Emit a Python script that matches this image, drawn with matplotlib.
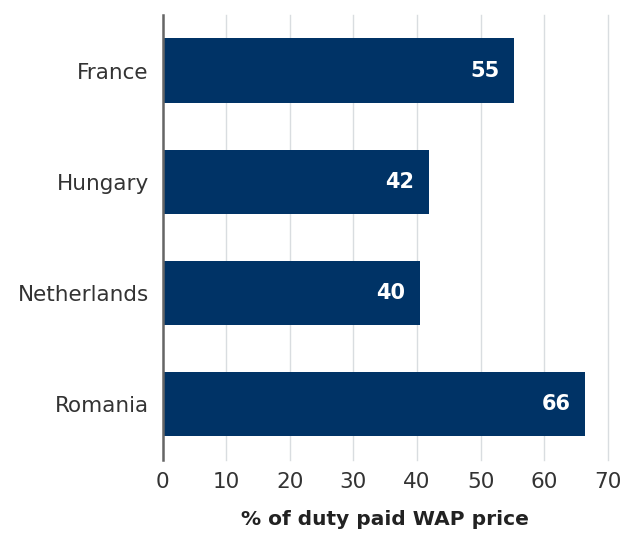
import matplotlib.pyplot as plt

countries = ['France', 'Hungary', 'Netherlands', 'Romania']
values = [55.2, 41.8, 40.4, 66.4]
value_labels = ['55', '42', '40', '66']
xticks = [0, 10, 20, 30, 40, 50, 60, 70]

plt.rcParams['font.family'] = ['DejaVu Sans']

fig = plt.figure(figsize=(6.3, 5.34), dpi=100)
ax = fig.add_axes([0.258, 0.139, 0.707, 0.833])

bar_color = '#003366'
text_color = '#333333'

ypos = list(range(len(countries)))
ax.barh(ypos, values, height=0.58, color=bar_color, zorder=3)

for y, v, lab in zip(ypos, values, value_labels):
    ax.annotate(lab, xy=(v, y), xytext=(-10.5, 0), textcoords='offset points',
                ha='right', va='center', color='white', fontsize=15,
                fontweight='bold')

ax.set_xlim(0, 70)
ax.set_ylim(3.5, -0.5)
ax.set_yticks(ypos)
ax.set_yticklabels(countries, fontsize=15.5, color=text_color)
ax.set_xticks(xticks)
ax.set_xticklabels([str(t) for t in xticks], fontsize=15.5, color=text_color)
ax.tick_params(axis='both', length=0)
ax.tick_params(axis='y', pad=10)
ax.tick_params(axis='x', pad=9)

ax.grid(axis='x', color='#d9dde0', linewidth=1, zorder=0)
for gl in ax.get_xgridlines():
    gl.set_clip_on(False)
ax.set_axisbelow(True)
for side in ['top', 'right', 'bottom']:
    ax.spines[side].set_visible(False)
ax.spines['left'].set_color('#666666')
ax.spines['left'].set_linewidth(1.8)
ax.spines['left'].set_zorder(4)

ax.set_xlabel('% of duty paid WAP price', fontsize=14.5, fontweight='bold',
              color='#222222', labelpad=13)

plt.savefig('out.png', dpi=100)
